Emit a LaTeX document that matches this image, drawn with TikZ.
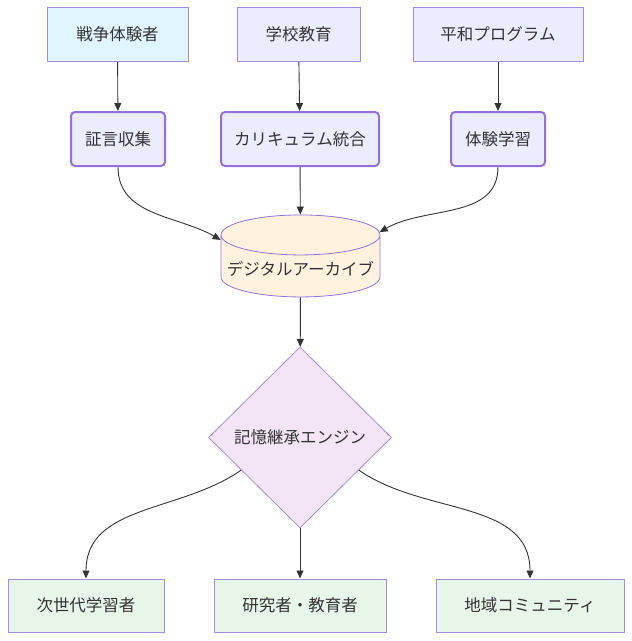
\documentclass[tikz,border=0pt]{standalone}
\usepackage{fontspec}
\setmainfont{Noto Sans CJK JP}
\usetikzlibrary{shapes.geometric,arrows.meta}

\definecolor{lineclr}{HTML}{333333}
\definecolor{strokeclr}{HTML}{A58BE0}
\definecolor{boldclr}{HTML}{9370DB}
\definecolor{srcfill}{HTML}{E1F5FE}
\definecolor{defill}{HTML}{ECECFF}
\definecolor{dbfill}{HTML}{FFF3E0}
\definecolor{enginefill}{HTML}{F3E5F5}
\definecolor{outfill}{HTML}{E8F5E9}

\tikzset{
  box/.style={draw=strokeclr, line width=1pt, minimum height=54pt, text=lineclr,
    font=\fontsize{16.5}{19}\selectfont},
  srcbox/.style={box, fill=srcfill},
  plainbox/.style={box, fill=defill},
  stepbox/.style={box, draw=boldclr, line width=2pt, rounded corners=4pt, fill=defill},
  outbox/.style={box, fill=outfill, minimum height=53pt},
  flow/.style={draw=lineclr, line width=0.9pt, -{Triangle[length=8pt,width=7pt]}}
}

\begin{document}
\begin{tikzpicture}[x=1pt,y=-1pt]
\useasboundingbox (0,0) rectangle (632,641);

% sources
\node[srcbox, minimum width=141pt] (witness) at (117.5,34.5) {戦争体験者};
\node[plainbox, minimum width=123pt] (school) at (298.5,34.5) {学校教育};
\node[plainbox, minimum width=170pt] (peace) at (498,34.5) {平和プログラム};

% steps
\node[stepbox, minimum width=94pt] (testimony) at (118,139) {証言収集};
\node[stepbox, minimum width=158pt] (curriculum) at (300,139) {カリキュラム統合};
\node[stepbox, minimum width=94pt] (experience) at (498,139) {体験学習};

% archive and engine
\node[cylinder, shape border rotate=90, aspect=0.26, draw=boldclr, line width=0.8pt,
  fill=dbfill, minimum width=159pt, minimum height=82pt, text=lineclr,
  font=\fontsize{16.5}{19}\selectfont] (archive) at (300.5,269) {デジタルアーカイブ};
\node[diamond, draw=strokeclr, line width=0.8pt, fill=enginefill, minimum width=183pt,
  minimum height=181pt, inner sep=0pt, text=lineclr,
  font=\fontsize{16.5}{19}\selectfont] (engine) at (300,437.5) {記憶継承エンジン};

% outputs
\node[outbox, minimum width=156pt] (learners) at (86,605.5) {次世代学習者};
\node[outbox, minimum width=172pt] (researchers) at (300,605.5) {研究者・教育者};
\node[outbox, minimum width=188pt] (community) at (530,605.5) {地域コミュニティ};

\draw[flow] (witness) -- (testimony);
\draw[flow] (school) -- (curriculum);
\draw[flow] (peace) -- (experience);

\draw[flow] (testimony.south) to[out=-90,in=150] (archive.160);
\draw[flow] (curriculum) -- (archive);
\draw[flow] (experience.south) to[out=-90,in=30] (archive.25);

\draw[flow] (archive) -- (engine);

\draw[flow] (engine.209) to[out=215,in=90] (learners.north);
\draw[flow] (engine) -- (researchers);
\draw[flow] (engine.331) to[out=-35,in=90] (community.north);
\end{tikzpicture}
\end{document}
